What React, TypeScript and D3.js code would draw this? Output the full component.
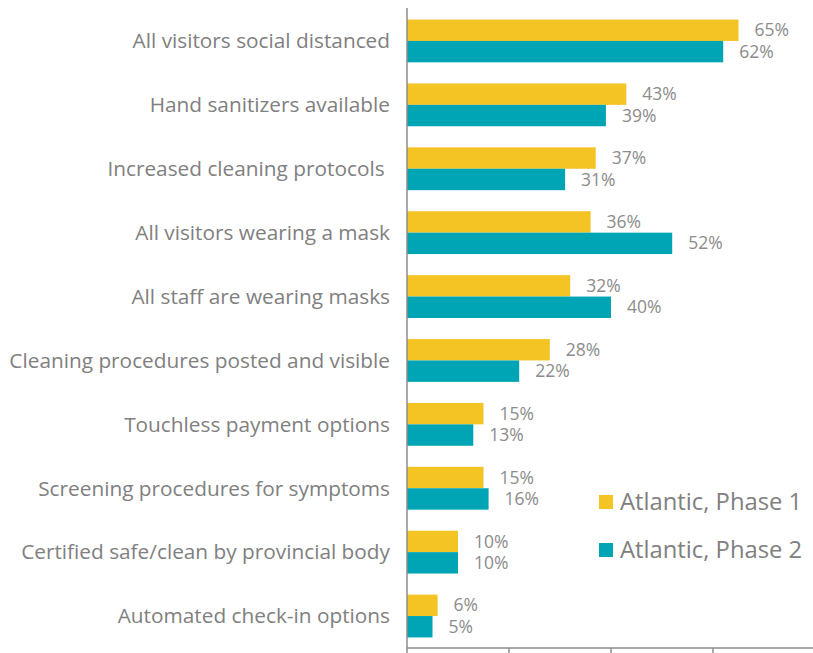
import { useEffect, useRef } from 'react';
import * as d3 from 'd3';

const categories = [
  'All visitors social distanced',
  'Hand sanitizers available',
  'Increased cleaning protocols ',
  'All visitors wearing a mask',
  'All staff are wearing masks',
  'Cleaning procedures posted and visible',
  'Touchless payment options',
  'Screening procedures for symptoms',
  'Certified safe/clean by provincial body',
  'Automated check-in options',
];
const phase1 = [65, 43, 37, 36, 32, 28, 15, 15, 10, 6];
const phase2 = [62, 39, 31, 52, 40, 22, 13, 16, 10, 5];
const seriesNames = ['Atlantic, Phase 1', 'Atlantic, Phase 2'];
const colors = ['#f4c324', '#00a5b5'];
const xTicks = [0, 20, 40, 60];

const App = () => {
  const svgRef = useRef<SVGSVGElement>(null);

  useEffect(() => {
    if (!svgRef.current) return;
    const width = 813;
    const height = 653;
    const left = 407;
    const top = 9;
    const bottom = 648;
    const font = '"Open Sans", sans-serif';

    const svg = d3.select(svgRef.current);
    svg.selectAll('*').remove();

    const x = d3.scaleLinear().domain([0, 80]).range([left, left + 408]);
    const y = d3.scaleBand().domain(categories).range([top, bottom]).paddingInner(0.33).paddingOuter(0.165);
    const bh = y.bandwidth() / 2;

    const series = [phase1, phase2];
    series.forEach((vals, s) => {
      const g = svg.append('g');
      g.selectAll('rect')
        .data(vals)
        .join('rect')
        .attr('x', x(0))
        .attr('y', (_, i) => y(categories[i])! + s * bh)
        .attr('width', (d) => x(d) - x(0))
        .attr('height', bh)
        .attr('fill', colors[s]);
      g.selectAll('text')
        .data(vals)
        .join('text')
        .attr('x', (d) => x(d) + 16)
        .attr('y', (_, i) => y(categories[i])! + s * bh + bh / 2)
        .attr('dy', '0.35em')
        .attr('font-family', font)
        .attr('font-size', 17.5)
        .attr('fill', '#8c8c8c')
        .text((d) => `${d}%`);
    });

    // category labels
    svg.append('g')
      .selectAll('text')
      .data(categories)
      .join('text')
      .attr('x', 390)
      .attr('y', (d) => y(d)! + y.bandwidth() / 2)
      .attr('dy', '0.35em')
      .attr('text-anchor', 'end')
      .attr('font-family', font)
      .attr('font-size', 20.8)
      .attr('fill', '#808080')
      .style('white-space', 'pre')
      .text((d) => d);

    // axes
    svg.append('line')
      .attr('x1', left).attr('x2', left)
      .attr('y1', top - 1).attr('y2', bottom)
      .attr('stroke', '#8c8c8c').attr('stroke-width', 1.5);
    svg.append('line')
      .attr('x1', left).attr('x2', width)
      .attr('y1', bottom).attr('y2', bottom)
      .attr('stroke', '#8c8c8c').attr('stroke-width', 1.5);
    svg.append('g')
      .selectAll('line')
      .data(xTicks)
      .join('line')
      .attr('x1', (d) => x(d)).attr('x2', (d) => x(d))
      .attr('y1', bottom).attr('y2', height)
      .attr('stroke', '#8c8c8c').attr('stroke-width', 1.5);

    // legend
    const legend = svg.append('g');
    seriesNames.forEach((name, i) => {
      const ly = 502 + i * 48;
      legend.append('rect')
        .attr('x', 599).attr('y', ly - 7)
        .attr('width', 14).attr('height', 14)
        .attr('fill', colors[i]);
      legend.append('text')
        .attr('x', 620).attr('y', ly)
        .attr('dy', '0.35em')
        .attr('font-family', font)
        .attr('font-size', 23.8)
        .attr('fill', '#808080')
        .text(name);
    });
  }, []);

  return (
    <svg
      ref={svgRef}
      width={813}
      height={653}
      style={{ position: 'absolute', left: 0, top: 0, background: '#fff' }}
    />
  );
};

export default App;
